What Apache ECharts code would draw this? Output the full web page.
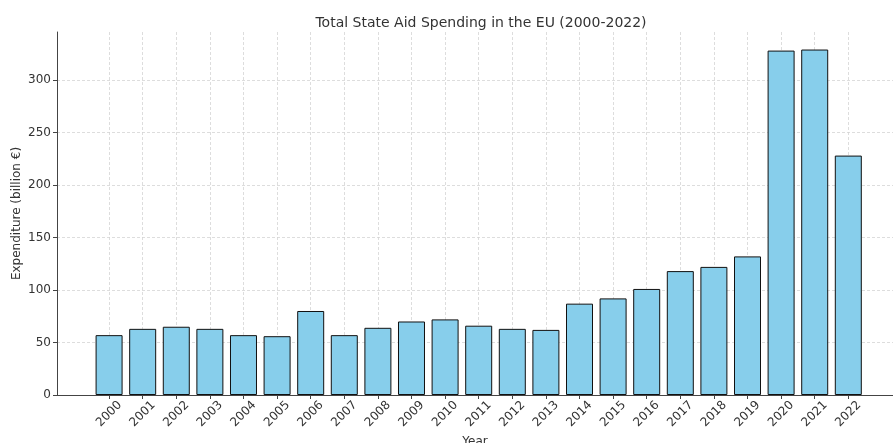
<!DOCTYPE html>
<html>
<head>
<meta charset="utf-8">
<script src="https://cdn.jsdelivr.net/npm/echarts@6/dist/echarts.min.js"></script>
<style>
  html, body { margin: 0; padding: 0; background: #fff; }
  #chart { width: 893px; height: 443px; }
</style>
</head>
<body>
<div id="chart"></div>
<script>
// years along the x axis
var years = ['2000', '2001', '2002', '2003', '2004', '2005', '2006', '2007', '2008', '2009', '2010', '2011',
  '2012', '2013', '2014', '2015', '2016', '2017', '2018', '2019', '2020', '2021', '2022']
// total state aid, billion €
var spending = [57, 63, 65, 63, 57, 56, 80, 57, 64, 70, 72, 66, 63, 62, 87, 92, 101, 118, 122, 132, 328, 329, 228]
var yTicks = [0, 50, 100, 150, 200, 250, 300]

var positions = years.map(function (y, i) { return i })
var barData = spending.map(function (v, i) { return [i, v] })

var chart = echarts.init(document.getElementById('chart'))
var font = 'DejaVu Sans'
var gridLine = { show: true, lineStyle: { color: '#d4d4d4', type: [3, 2], width: 0.8 } }

chart.setOption({
  animation: false,
  textStyle: { fontFamily: font },
  title: {
    text: 'Total State Aid Spending in the EU (2000-2022)',
    left: 476,
    top: 11,
    textAlign: 'center',
    textStyle: { fontFamily: font, fontSize: 14, fontWeight: 'normal', color: '#333' }
  },
  grid: { left: 57, right: 0, top: 32, bottom: 48, outerBoundsMode: 'none', containLabel: false },
  xAxis: {
    type: 'value',
    min: -1.55,
    max: 23.33,
    name: 'Year',
    nameLocation: 'middle',
    nameGap: 41,
    nameMoveOverlap: false,
    nameTextStyle: { fontFamily: font, fontSize: 12, color: '#333' },
    axisLine: { show: true, onZero: false, lineStyle: { color: '#444', width: 1 } },
    axisTick: { show: true, customValues: positions, length: 4, lineStyle: { color: '#444' } },
    axisLabel: {
      customValues: positions,
      rotate: 45,
      align: 'center',
      verticalAlign: 'middle',
      fontSize: 12,
      color: '#333',
      margin: 19,
      formatter: function (v) { return years[Math.round(v)] }
    },
    splitLine: gridLine
  },
  yAxis: {
    type: 'value',
    min: 0,
    max: 345.7,
    name: 'Expenditure (billion €)',
    nameLocation: 'middle',
    nameGap: 34,
    nameMoveOverlap: false,
    nameTextStyle: { fontFamily: font, fontSize: 12, color: '#333' },
    axisLine: { show: true, onZero: false, lineStyle: { color: '#444', width: 1 } },
    axisTick: { show: true, customValues: yTicks, length: 4, lineStyle: { color: '#444' } },
    axisLabel: { customValues: yTicks, fontSize: 12, color: '#333', margin: 6 },
    splitLine: gridLine
  },
  series: [{
    type: 'bar',
    data: barData,
    barWidth: 27,
    itemStyle: { color: '#87CEEB', borderColor: '#111', borderWidth: 1 }
  }]
})
</script>
</body>
</html>
